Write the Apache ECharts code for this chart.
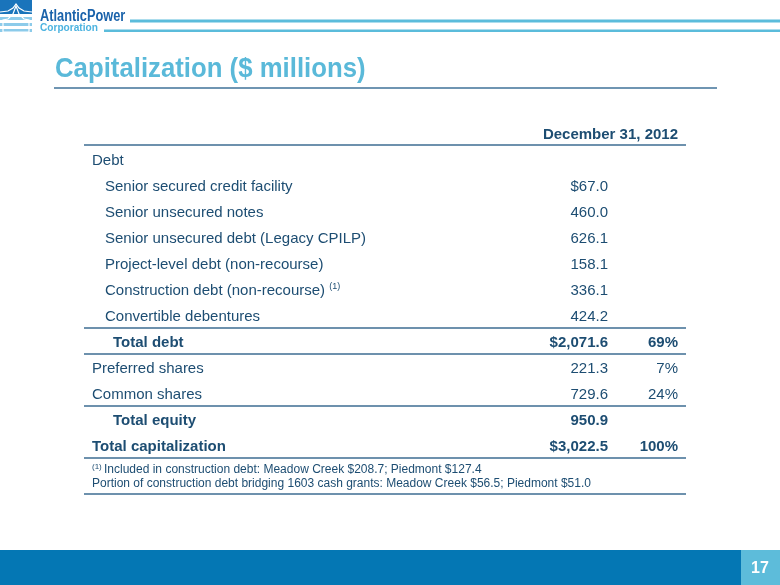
<!DOCTYPE html>
<html>
<head>
<meta charset="utf-8">
<script src="https://cdn.jsdelivr.net/npm/echarts@6/dist/echarts.min.js"></script>
<style>
html,body{margin:0;padding:0;background:#fff;}
#chart{width:780px;height:585px;}
</style>
</head>
<body>
<div id="chart"></div>
<script>
// ---------- DATA ----------
const titleText = 'Capitalization ($ millions)';
const columnHeader = 'December 31, 2012';
const rowLabels = [
  'Debt',
  'Senior secured credit facility',
  'Senior unsecured notes',
  'Senior unsecured debt (Legacy CPILP)',
  'Project-level debt (non-recourse)',
  'Construction debt (non-recourse)',
  'Convertible debentures',
  'Total debt',
  'Preferred shares',
  'Common shares',
  'Total equity',
  'Total capitalization'
];
const rowNotes = ['', '', '', '', '', '(1)', '', '', '', '', '', ''];
const amounts = [null, 67.0, 460.0, 626.1, 158.1, 336.1, 424.2, 2071.6, 221.3, 729.6, 950.9, 3022.5];
const dollarRows = [1, 7, 11];
const shares = [null, null, null, null, null, null, null, 69, 7, 24, null, 100];
const rowKinds = ['section', 'item', 'item', 'item', 'item', 'item', 'item', 'subtotal', 'section', 'section', 'subtotal', 'total'];
const rulesAfterRow = [6, 7, 9, 11];
const footnoteMark = '(1)';
const footnotes = [
  'Included in construction debt: Meadow Creek $208.7; Piedmont $127.4',
  'Portion of construction debt bridging 1603 cash grants: Meadow Creek $56.5; Piedmont $51.0'
];
const pageNumber = '17';

// ---------- STYLE / LAYOUT ----------
const FONT = '"Liberation Sans", Arial, Helvetica, sans-serif';
const TXT = '#1d4d72';
const RULE = '#6d91ad';
const LIGHT = '#5bbcdb';
const indentX = { section: 92, item: 105, subtotal: 113, total: 92 };
const amountRight = 608;
const shareRight = 678;
const ruleLeft = 84, ruleRight = 686;
const textShift = 1.5;

const measureCtx = document.createElement('canvas').getContext('2d');
function textWidth(txt, font) { measureCtx.font = font; return measureCtx.measureText(txt).width; }

function fmtAmount(v, i) {
  if (v == null) return '';
  const s = v.toLocaleString('en-US', { minimumFractionDigits: 1, maximumFractionDigits: 1 });
  return (dollarRows.indexOf(i) >= 0 ? '$' : '') + s;
}

const chart = echarts.init(document.getElementById('chart'), null, { renderer: 'canvas' });

function renderRow(params, api) {
  const i = api.value(0);
  const c = api.coord([0, i]);
  const y = c[1];
  const ty = y + textShift;
  const band = api.size([0, 1])[1];
  const kind = rowKinds[i];
  const bold = (kind === 'subtotal' || kind === 'total') ? 'bold ' : '';
  const font = bold + '15px ' + FONT;
  const children = [];
  children.push({
    type: 'text',
    style: { x: indentX[kind], y: ty, text: rowLabels[i], textAlign: 'left', textVerticalAlign: 'middle', font: font, fill: TXT }
  });
  if (rowNotes[i]) {
    const w = textWidth(rowLabels[i] + ' ', font);
    children.push({
      type: 'text',
      style: { x: indentX[kind] + w, y: ty - 4, text: rowNotes[i], textAlign: 'left', textVerticalAlign: 'middle', font: '9px ' + FONT, fill: TXT }
    });
  }
  if (amounts[i] != null) {
    children.push({
      type: 'text',
      style: { x: amountRight, y: ty, text: fmtAmount(amounts[i], i), textAlign: 'right', textVerticalAlign: 'middle', font: font, fill: TXT }
    });
  }
  if (shares[i] != null) {
    children.push({
      type: 'text',
      style: { x: shareRight, y: ty, text: shares[i] + '%', textAlign: 'right', textVerticalAlign: 'middle', font: font, fill: TXT }
    });
  }
  if (i === 0) {
    children.push({
      type: 'line',
      shape: { x1: ruleLeft, y1: y - band / 2 - 1, x2: ruleRight, y2: y - band / 2 - 1 },
      style: { stroke: RULE, lineWidth: 2 }
    });
  }
  if (rulesAfterRow.indexOf(i) >= 0) {
    children.push({
      type: 'line',
      shape: { x1: ruleLeft, y1: y + band / 2, x2: ruleRight, y2: y + band / 2 },
      style: { stroke: RULE, lineWidth: 2 }
    });
  }
  return { type: 'group', children: children };
}

const fnFont = '12px ' + FONT;
const fnMarkW = textWidth(footnoteMark + ' ', '8px ' + FONT);

const option = {
  animation: false,
  backgroundColor: '#ffffff',
  grid: { left: 0, right: 0, top: 146, height: 312 },
  xAxis: { type: 'value', min: 0, max: 780, show: false },
  yAxis: { type: 'category', data: rowLabels, inverse: true, show: false },
  series: [{
    type: 'custom',
    renderItem: renderRow,
    encode: { y: 0 },
    data: rowLabels.map((l, i) => [i]),
    silent: true
  }],
  graphic: [
    // logo icon
    { type: 'rect', shape: { x: 0, y: 0, width: 32, height: 14 }, style: { fill: '#1a74bb' } },
    { type: 'rect', shape: { x: 0, y: 17, width: 32, height: 3 }, style: { fill: '#8ccbea' } },
    { type: 'rect', shape: { x: 0, y: 23, width: 32, height: 3 }, style: { fill: '#8ccbea' } },
    { type: 'rect', shape: { x: 0, y: 29, width: 32, height: 3 }, style: { fill: '#8ccbea' } },
    { type: 'polygon', shape: { points: [[16, 6], [13, 14], [8, 19], [3, 20], [3, 32], [29, 32], [29, 20], [24, 19], [19, 14]] }, style: { fill: 'none', stroke: '#ffffff', lineWidth: 1.2 } },
    { type: 'polyline', shape: { points: [[0, 12], [8, 11], [13, 8], [16, 4], [19, 8], [24, 11], [32, 12]] }, style: { stroke: '#ffffff', lineWidth: 1.2, fill: 'none' } },
    { type: 'text', x: 40, y: 17, scaleX: 0.8, style: { x: 0, y: 0, text: 'AtlanticPower', font: 'bold 16px ' + FONT, fill: '#1b63ab', textVerticalAlign: 'middle' } },
    { type: 'text', x: 40, y: 28, scaleX: 0.92, style: { x: 0, y: 0, text: 'Corporation', font: 'bold 11px ' + FONT, fill: '#4cb3e0', textVerticalAlign: 'middle' } },
    { type: 'rect', shape: { x: 130, y: 19.5, width: 650, height: 3 }, style: { fill: LIGHT } },
    { type: 'rect', shape: { x: 104, y: 29.5, width: 676, height: 2.5 }, style: { fill: LIGHT } },
    // title
    { type: 'text', x: 55, y: 69, scaleX: 0.92, style: { x: 0, y: 0, text: titleText, font: 'bold 28px ' + FONT, fill: '#5ab9d9', textVerticalAlign: 'middle' } },
    { type: 'line', shape: { x1: 54, y1: 88, x2: 717, y2: 88 }, style: { stroke: '#6f95b2', lineWidth: 2 } },
    // column header
    { type: 'text', style: { x: shareRight, y: 133 + textShift, text: columnHeader, font: 'bold 15px ' + FONT, fill: TXT, textAlign: 'right', textVerticalAlign: 'middle' } },
    // footnotes
    { type: 'text', style: { x: 92, y: 467, text: footnoteMark, font: '8px ' + FONT, fill: TXT, textVerticalAlign: 'middle' } },
    { type: 'text', style: { x: 92 + fnMarkW, y: 470, text: footnotes[0], font: fnFont, fill: TXT, textVerticalAlign: 'middle' } },
    { type: 'text', style: { x: 92, y: 484, text: footnotes[1], font: fnFont, fill: TXT, textVerticalAlign: 'middle' } },
    { type: 'line', shape: { x1: ruleLeft, y1: 494, x2: ruleRight, y2: 494 }, style: { stroke: RULE, lineWidth: 2 } },
    // bottom bar
    { type: 'rect', shape: { x: 0, y: 550, width: 741, height: 35 }, style: { fill: '#0477b4' } },
    { type: 'rect', shape: { x: 741, y: 550, width: 39, height: 35 }, style: { fill: '#5dbcda' } },
    { type: 'text', style: { x: 760, y: 569, text: pageNumber, font: 'bold 16px ' + FONT, fill: '#ffffff', textAlign: 'center', textVerticalAlign: 'middle' } }
  ]
};
chart.setOption(option);
</script>
</body>
</html>
